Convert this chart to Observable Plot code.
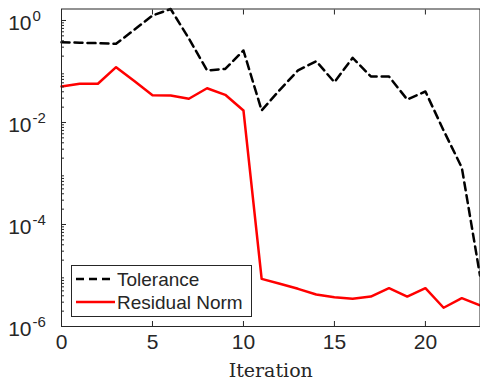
<!DOCTYPE html>
<html><head><meta charset="utf-8">
<script src="https://cdn.jsdelivr.net/npm/d3@7"></script>
<script src="https://cdn.jsdelivr.net/npm/@observablehq/plot@0.6"></script>
<style>
html,body{margin:0;padding:0;background:#fff;overflow:hidden;}
</style></head><body><div id="chart"></div>
<script>
const iterations = [0,1,2,3,4,5,6,7,8,9,10,11,12,13,14,15,16,17,18,19,20,21,22,23];
const tolerance = [0.376,0.367,0.359,0.349,0.657,1.25,1.68,0.444,0.105,0.112,0.258,0.0172,0.0437,0.105,0.159,0.0617,0.186,0.0798,0.0798,0.0282,0.0405,0.00697,0.00131,1.0e-5];
const residualNorm = [0.0508,0.0574,0.0574,0.1214,0.0648,0.0343,0.0339,0.0292,0.047,0.0349,0.0172,8.6e-6,6.87e-6,5.48e-6,4.24e-6,3.76e-6,3.49e-6,3.87e-6,5.63e-6,3.87e-6,5.63e-6,2.33e-6,3.59e-6,2.6e-6];
const seriesNames = ["Tolerance","Residual Norm"];
const xTicks = [0,5,10,15,20];
const yTicks = [1e-6,1e-4,1e-2,1];
const yTickExponents = ["-6","-4","-2","0"];
const xLabel = "Iteration";

const yMax = d3.max(tolerance);
const yMinor = [];
for (let e = -6; e <= 0; e++) for (let k = 2; k <= 9; k++) { const v = k * Math.pow(10, e); if (v <= yMax) yMinor.push(v); }

const tolData = iterations.map((it, i) => ({iteration: it, value: tolerance[i]}));
const resData = iterations.map((it, i) => ({iteration: it, value: residualNorm[i]}));

const ink = "#262626";
const chart = Plot.plot({
  width: 480, height: 380,
  marginLeft: 61, marginRight: 0.5, marginTop: 8.5, marginBottom: 54,
  style: {fontFamily: "'Liberation Sans', Arial, sans-serif", fontSize: "21px", color: ink, background: "white", overflow: "hidden"},
  x: {domain: [0, 23]},
  y: {type: "log", domain: [1e-6, yMax]},
  marks: [
    Plot.line(tolData, {x: "iteration", y: "value", stroke: "black", strokeWidth: 2.5, strokeDasharray: "8,5"}),
    Plot.line(resData, {x: "iteration", y: "value", stroke: "#ff0000", strokeWidth: 2.5}),
    Plot.frame({stroke: ink, strokeWidth: 1}),
    Plot.axisX(xTicks, {anchor: "bottom", tickSize: -5, tickPadding: 13, label: null, stroke: ink}),
    Plot.axisX(xTicks, {anchor: "top", tickSize: -5, tickFormat: () => "", label: null, stroke: ink}),
    Plot.axisY(yTicks, {anchor: "left", tickSize: -5, tickFormat: () => "", label: null, stroke: ink}),
    Plot.axisY(yMinor, {anchor: "left", tickSize: -3, tickFormat: () => "", label: null, stroke: ink}),
    Plot.text(yTicks, {y: d => d, frameAnchor: "left", text: () => "10", textAnchor: "end", lineAnchor: "middle", dx: -30, dy: 3, fontSize: 21, fill: ink}),
    Plot.text(yTicks, {y: d => d, frameAnchor: "left", text: (d, i) => yTickExponents[i], textAnchor: "start", lineAnchor: "middle", dx: -29, dy: -4, fontSize: 15, fill: ink}),
    Plot.text([xLabel], {frameAnchor: "bottom", text: d => d, lineAnchor: "middle", dy: 44, fontSize: 19, fontFamily: "'DejaVu Serif', serif", fill: ink})
  ]
});
document.getElementById("chart").appendChild(chart);

// Legend inside the axes
const svg = d3.select(chart);
const lg = svg.append("g").attr("font-family", "'Liberation Sans', Arial, sans-serif").attr("font-size", 19).attr("fill", ink).attr("text-anchor", "start");
lg.append("rect").attr("x", 71.5).attr("y", 265.5).attr("width", 180).attr("height", 51)
  .attr("fill", "white").attr("stroke", ink).attr("stroke-width", 1);
const styles = [{stroke: "black", w: 2.5, dash: "8,5"}, {stroke: "#ff0000", w: 2.5, dash: null}];
seriesNames.forEach((name, i) => {
  const y = 279 + i * 23;
  lg.append("line").attr("x1", 76).attr("x2", 115).attr("y1", y).attr("y2", y)
    .attr("stroke", styles[i].stroke).attr("stroke-width", styles[i].w).attr("stroke-dasharray", styles[i].dash);
  lg.append("text").attr("x", 117).attr("y", y).attr("dy", "0.35em").attr("text-anchor", "start").text(name);
});
</script></body></html>
